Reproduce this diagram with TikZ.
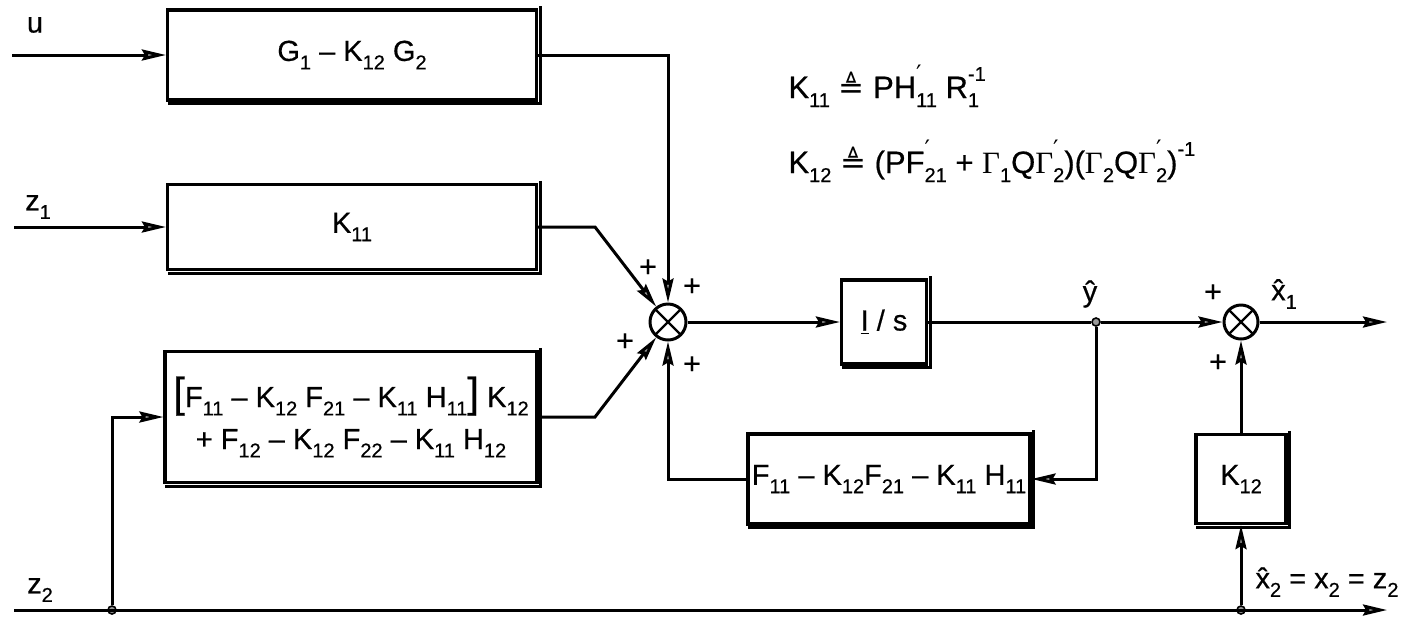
\documentclass[tikz,border=0pt]{standalone}
\usepackage{fontspec}
\setmainfont{Liberation Sans}[FakeBold=0.5]
\newfontfamily\dvfont{DejaVu Sans}
\newfontfamily\serfont{Liberation Serif}
\usetikzlibrary{arrows.meta}
\newcommand\ssz{\fontsize{10}{10}\selectfont}
\newcommand\lo[1]{\raisebox{-0.55ex}{\ssz #1}}
\newcommand\hi[1]{\raisebox{1.05ex}{\ssz #1}}
% prime above, subscript below
\newcommand\pl[1]{\rlap{\raisebox{0.95ex}{\fontsize{12}{12}\selectfont\dvfont ′}}\raisebox{-0.55ex}{\ssz #1}}
% subscript below, wider superscript above
\newcommand\sbsp[2]{\rlap{\raisebox{-0.55ex}{\ssz #1}}\raisebox{1.05ex}{\ssz #2}}
\newcommand\Gm{{\serfont Γ}}
\newcommand\shd[1]{\draw[line width=1.4pt] ([xshift=1pt,yshift=1pt]#1.north east) -- ([xshift=1pt,yshift=-1pt]#1.south east) -- ([xshift=1pt,yshift=-1pt]#1.south west);}
\begin{document}
\begin{tikzpicture}[x=0.5pt,y=-0.5pt,line width=1.5pt,
  blk/.style={draw,line width=1.6pt,inner sep=0pt,align=center,font=\fontsize{14.5}{17}\selectfont},
  sumj/.style={draw,circle,line width=1.5pt,minimum size=18pt,inner sep=0pt,
    path picture={\draw[line width=1.2pt] (path picture bounding box.north west)--(path picture bounding box.south east)
      (path picture bounding box.north east)--(path picture bounding box.south west);}},
  lbl/.style={font=\fontsize{14.5}{17}\selectfont,inner sep=1pt},
  pls/.style={font=\fontsize{15}{15}\selectfont,inner sep=0pt},
  arr/.style={-{Stealth[length=12pt,width=5.5pt,inset=1.5pt,fill=black!40]}},
  jdot/.style={circle,draw,fill=black!40,inner sep=0pt,minimum size=4pt,line width=0.8pt}]
\useasboundingbox (0,0) rectangle (1407,618);

% blocks
\node[blk,minimum width=184.5pt,minimum height=45pt] (G) at (352,55) {G\lo{1} -- K\lo{12} G\lo{2}};
\node[blk,minimum width=184.5pt,minimum height=42.5pt] (K11) at (352,227) {K\lo{11}};
\node[blk,minimum width=186pt,minimum height=65.5pt] (BB) at (351,417)
  {{\fontsize{21}{21}\selectfont[}F\lo{11} -- K\lo{12} F\lo{21} -- K\lo{11} H\lo{11}{\fontsize{21}{21}\selectfont]} K\lo{12}\\[4pt]
   + F\lo{12} -- K\lo{12} F\lo{22} -- K\lo{11} H\lo{12}};
\node[sumj] (s1) at (668,322) {};
\node[blk,minimum width=42.5pt,minimum height=42pt] (Is) at (884,322) {\underline{I} / s};
\node[blk,minimum width=141pt,minimum height=45pt] (FB) at (889,479) {F\lo{11} -- K\lo{12}F\lo{21} -- K\lo{11} H\lo{11}};
\node[sumj,minimum size=17pt] (s2) at (1241,322) {};
\node[blk,minimum width=45pt,minimum height=44.5pt] (K12) at (1241,479) {K\lo{12}};
\shd{G}\shd{K11}\shd{BB}\shd{Is}\shd{FB}\shd{K12}

% junctions and free ends
\node[jdot] (j1) at (1096,322) {};
\node[jdot] (j2) at (112,610) {};
\node[jdot] (j3) at (1241,610) {};
\coordinate (uin) at (12,55);
\coordinate (z1in) at (14,227);
\coordinate (z2in) at (14,610);
\coordinate (z2out) at (1387,610);
\coordinate (xout) at (1387,322);
\coordinate (kt) at (595,227);
\coordinate (bt) at (595,417);

% connectors
\draw[arr] (uin) -- (G);
\draw[arr] (z1in) -- (K11);
\draw[arr] (G.east) -| (s1);
\draw[arr] (K11.east) -- (kt) -- (s1);
\draw[arr] (BB.east) -- (bt) -- (s1);
\draw[arr] (s1) -- (Is);
\draw (Is) -- (j1);
\draw[arr] (j1) -- (s2);
\draw[arr] (s2) -- (xout);
\draw[arr] (j1) |- (FB);
\draw[arr] (FB) -| (s1);
\draw[arr] (K12) -- (s2);
\draw[arr] (j3) -- (K12);
\draw[arr] (z2in) -- (z2out);
\draw[arr] (j2) |- (BB);

% labels
\node[lbl] (lu) at (35,25) {u};
\node[lbl] (lz1) at (38,207) {z\lo{1}};
\node[lbl] (lz2) at (40,590) {z\lo{2}};
\node[lbl] (ly) at (1090,294) {\^{y}};
\node[lbl] (lx1) at (1284,294) {\^{x}\lo{1}};
\node[lbl,anchor=west] (lx2) at (1252,582) {\^{x}\lo{2} = x\lo{2} = z\lo{2}};
\node[pls] (p1) at (648,268) {+};
\node[pls] (p2) at (692,287) {+};
\node[pls] (p3) at (625,342) {+};
\node[pls] (p4) at (692,365) {+};
\node[pls] (p5) at (1213,293) {+};
\node[pls] (p6) at (1218,363) {+};

% definitions
\node[lbl,anchor=west,font=\fontsize{15.5}{18}\selectfont] (d1) at (785,86) {K\lo{11} {\dvfont ≜} PH\pl{11} R\sbsp{1}{-1}};
\node[lbl,anchor=west,font=\fontsize{15.5}{18}\selectfont] (d2) at (785,161) {K\lo{12} {\dvfont ≜} (PF\pl{21} + \Gm\lo{1}Q\Gm\pl{2})(\Gm\lo{2}Q\Gm\pl{2})\hi{-1}};
\end{tikzpicture}
\end{document}
